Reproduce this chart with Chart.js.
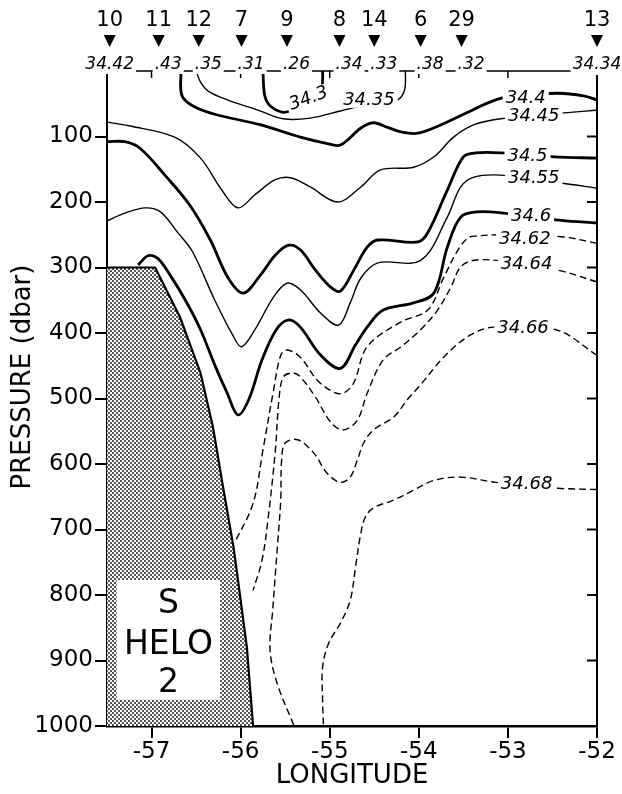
<!DOCTYPE html>
<html>
<head>
<meta charset="utf-8">
<script src="https://cdn.jsdelivr.net/npm/chart.js@4"></script>
<style>
html,body{margin:0;padding:0;background:#fff;}
</style>
</head>
<body>
<canvas id="myChart" width="622" height="794"></canvas>
<script>
// stations along the section, marked on top
const stations = ['10','11','12','7','9','8','14','6','29','13'];
const stationLon = [-57.47,-56.92,-56.47,-55.99,-55.48,-54.89,-54.50,-53.98,-53.52,-52.0];
const surfaceS = ['34.42','.43','.35','.31','.26','.34','.33','.38','.32','34.34'];

const lonTicks = [-57,-56,-55,-54,-53,-52];
const presTicks = [100,200,300,400,500,600,700,800,900,1000];

// salinity contours as [longitude, pressure]
const s343 = [[-55.75,0],[-55.73,37],[-55.67,53],[-55.52,63],[-55.39,58],[-55.22,49],[-55.10,34],[-55.08,14],[-55.08,0]];
const s3435 = [[-56.50,0],[-56.45,17],[-56.36,31],[-56.15,44],[-55.80,60],[-55.52,73],[-55.22,72],[-54.88,61],[-54.54,50],[-54.24,44],[-54.16,29],[-54.15,0]];
const s344 = [[-56.67,0],[-56.66,37],[-56.54,53],[-56.29,66],[-55.78,82],[-55.33,101],[-55.05,110],[-54.88,113],[-54.65,87],[-54.51,79],[-54.35,86],[-54.20,93],[-54.01,95],[-53.75,82],[-53.45,63],[-53.23,49],[-53.02,40],[-52.74,37],[-52.44,34],[-52.15,38],[-52.0,44]];
const s3445 = [[-57.5,78],[-57.24,84],[-56.74,101],[-56.45,133],[-56.21,182],[-56.03,209],[-55.84,189],[-55.61,166],[-55.44,163],[-55.22,177],[-54.91,200],[-54.65,177],[-54.43,151],[-54.06,147],[-53.83,131],[-53.61,101],[-53.38,82],[-53.08,73],[-52.74,70],[-52.37,64],[-52.0,60]];
const s345 = [[-57.5,108],[-57.30,108],[-57.13,118],[-56.85,159],[-56.57,205],[-56.34,258],[-56.14,316],[-55.97,339],[-55.78,312],[-55.61,281],[-55.46,266],[-55.33,273],[-55.16,304],[-54.99,330],[-54.88,336],[-54.73,304],[-54.58,269],[-54.46,258],[-54.01,261],[-53.90,247],[-53.68,182],[-53.50,131],[-53.36,125],[-53.08,125],[-52.48,131],[-52.0,133]];
const s3455 = [[-57.5,229],[-57.30,217],[-57.07,209],[-56.90,215],[-56.71,246],[-56.54,276],[-56.29,350],[-56.09,403],[-55.99,421],[-55.84,395],[-55.64,347],[-55.48,324],[-55.33,334],[-55.10,370],[-54.90,388],[-54.77,354],[-54.65,316],[-54.46,293],[-53.98,289],[-53.68,223],[-53.53,177],[-53.38,162],[-53.08,159],[-52.40,171],[-52.0,179]];
const s346 = [[-57.15,296],[-57.04,282],[-56.93,286],[-56.79,312],[-56.62,350],[-56.45,395],[-56.29,449],[-56.15,492],[-56.03,525],[-55.91,502],[-55.76,441],[-55.60,395],[-55.46,380],[-55.33,391],[-55.10,434],[-54.88,454],[-54.71,418],[-54.58,391],[-54.40,365],[-54.06,354],[-53.83,339],[-53.68,269],[-53.53,223],[-53.34,215],[-53.05,217],[-52.40,228],[-52.0,232]];
const s3462 = [[-52.0,263],[-52.40,253],[-53.08,250],[-53.36,252],[-53.45,255],[-53.56,273],[-53.72,315],[-53.90,365],[-54.20,383],[-54.58,421],[-54.73,476],[-54.85,492],[-54.96,490],[-55.14,472],[-55.33,437],[-55.48,426],[-55.55,434],[-55.63,487],[-55.75,579],[-55.86,660],[-56.07,721]];
const s3464 = [[-52.0,322],[-52.44,304],[-53.08,290],[-53.38,289],[-53.53,299],[-53.64,330],[-53.79,365],[-53.98,395],[-54.20,421],[-54.40,441],[-54.58,492],[-54.69,533],[-54.85,548],[-54.99,536],[-55.16,498],[-55.33,467],[-55.41,461],[-55.52,467],[-55.57,502],[-55.61,579],[-55.69,681],[-55.76,747],[-55.86,793]];
const s3466 = [[-52.0,434],[-52.46,395],[-53.16,391],[-53.42,403],[-53.70,434],[-53.98,479],[-54.13,502],[-54.28,528],[-54.51,548],[-54.62,568],[-54.69,594],[-54.77,620],[-54.88,628],[-55.03,614],[-55.18,583],[-55.36,563],[-55.50,568],[-55.54,594],[-55.55,655],[-55.59,731],[-55.64,823],[-55.67,884],[-55.59,935],[-55.40,1000]];
const s3468 = [[-52.0,639],[-52.44,637],[-53.14,628],[-53.53,620],[-53.83,625],[-54.06,640],[-54.28,655],[-54.51,667],[-54.60,681],[-54.65,705],[-54.71,757],[-54.77,808],[-54.88,843],[-55.01,873],[-55.08,910],[-55.08,961],[-55.07,1000]];

// sea floor (shelf and slope)
const bottom = [[-57.5,300],[-56.96,300],[-56.68,376],[-56.45,461],[-56.31,544],[-56.21,625],[-56.08,727],[-56.03,777],[-55.93,880],[-55.86,1000]];

// contour labels
const labelText = ['34.3','34.35','34.4','34.45','34.5','34.55','34.6','34.62','34.64','34.66','34.68'];
const labelLon = [-55.24,-54.56,-52.80,-52.71,-52.78,-52.71,-52.74,-52.81,-52.79,-52.83,-52.79];
const labelP = [41,44,40,67,128,162,220,255,293,392,629];

// "S HELO 2" box
const boxText = ['S','HELO','2'];
const boxLon = [-57.39,-56.23];
const boxP = [777,960];
const boxTextP = [815,877,935];
const boxTextLon = -56.81;

const yTitle = 'PRESSURE (dbar)';

const FONT = 'DejaVu Sans';
const ctx = document.getElementById('myChart').getContext('2d');

// checkered fill for the bottom
const pc = document.createElement('canvas');
pc.width = 4; pc.height = 4;
const pctx = pc.getContext('2d');
pctx.fillStyle = '#fff'; pctx.fillRect(0,0,4,4);
pctx.fillStyle = '#555'; pctx.fillRect(0,0,2,2); pctx.fillRect(2,2,2,2);
const dots = ctx.createPattern(pc,'repeat');

const xy = arr => arr.map(p => ({x:p[0], y:p[1]}));

const line = (arr, kind) => ({
    data: xy(arr),
    borderColor: '#000',
    borderWidth: kind=='bold' ? 2.8 : 1.4,
    borderDash: kind=='dash' ? [7,4] : [],
    pointRadius: 0,
    tension: 0.35,
    fill: false,
    order: 2
});

const deco = {
    id: 'deco',
    afterDatasetsDraw(chart){
        const c = chart.ctx, a = chart.chartArea;
        const x = chart.scales.x, y = chart.scales.y;
        c.save();
        c.fillStyle = '#000';
        c.strokeStyle = '#000';

        // white box on the slope
        let bx0 = x.getPixelForValue(boxLon[0]), bx1 = x.getPixelForValue(boxLon[1]);
        let by0 = y.getPixelForValue(boxP[0]), by1 = y.getPixelForValue(boxP[1]);
        c.fillStyle = '#fff';
        c.fillRect(bx0, by0, bx1-bx0, by1-by0);
        c.fillStyle = '#000';
        c.font = '33px "'+FONT+'"';
        c.textAlign = 'center';
        c.textBaseline = 'middle';
        boxText.forEach((t,i)=>{
            c.fillText(t, x.getPixelForValue(boxTextLon), y.getPixelForValue(boxTextP[i]));
        });

        // contour labels, breaking the lines
        c.font = 'italic 18px "'+FONT+'"';
        labelText.forEach((t,i)=>{
            let px = x.getPixelForValue(labelLon[i]), py = y.getPixelForValue(labelP[i]);
            let w = c.measureText(t).width;
            c.save();
            c.translate(px,py);
            if (t=='34.3') c.rotate(-0.35);
            c.fillStyle = '#fff';
            c.fillRect(-w/2-3, -8, w+6, 16);
            c.fillStyle = '#000';
            c.fillText(t, 0, 1);
            c.restore();
        });

        // top line with surface salinities
        let top = y.getPixelForValue(0);
        c.lineWidth = 1.5;
        c.beginPath(); c.moveTo(a.left, top); c.lineTo(a.right, top); c.stroke();
        lonTicks.forEach(v=>{
            if (v==-52) return;
            let px = x.getPixelForValue(v);
            c.beginPath(); c.moveTo(px, top); c.lineTo(px, top+7); c.stroke();
        });
        stationLon.forEach((lon,i)=>{
            let px = x.getPixelForValue(lon);
            let t = surfaceS[i];
            c.font = 'italic 17px "'+FONT+'"';
            c.textBaseline = 'alphabetic';
            c.textAlign = 'left';
            let w = c.measureText(t).width;
            let left = (i==0 || i==stationLon.length-1) ? px - w/2 : px - 4;
            c.fillStyle = '#fff';
            c.fillRect(left-2, top-17, w+4, 20);
            c.fillStyle = '#000';
            c.fillText(t, left, top-2);

            // station marker
            c.beginPath();
            c.moveTo(px-6, top-36); c.lineTo(px+6, top-36); c.lineTo(px, top-24);
            c.closePath(); c.fill();
            c.font = '21px "'+FONT+'"';
            c.textAlign = 'center';
            c.textBaseline = 'middle';
            c.fillText(stations[i], px, top-50);
        });

        // right axis with inward ticks
        c.lineWidth = 2;
        c.beginPath(); c.moveTo(a.right, top+4); c.lineTo(a.right, a.bottom); c.stroke();
        presTicks.forEach(v=>{
            if (v==1000) return;
            let py = y.getPixelForValue(v);
            c.beginPath(); c.moveTo(a.right-10, py); c.lineTo(a.right, py); c.stroke();
        });

        // pressure axis title
        c.save();
        c.translate(23, 377);
        c.rotate(-Math.PI/2);
        c.font = '26px "'+FONT+'"';
        c.textAlign = 'center';
        c.textBaseline = 'middle';
        c.fillText(yTitle, 0, 0);
        c.restore();
        c.restore();
    }
};

new Chart(ctx, {
    type: 'line',
    data: {
        datasets: [
            {
                data: xy(bottom),
                borderColor: '#000',
                borderWidth: 2.2,
                backgroundColor: dots,
                fill: {value: 1000},
                pointRadius: 0,
                tension: 0,
                order: 1
            },
            line(s343,'bold'),
            line(s3435,'thin'),
            line(s344,'bold'),
            line(s3445,'thin'),
            line(s345,'bold'),
            line(s3455,'thin'),
            line(s346,'bold'),
            line(s3462,'dash'),
            line(s3464,'dash'),
            line(s3466,'dash'),
            line(s3468,'dash')
        ]
    },
    options: {
        responsive: false,
        animation: false,
        layout: {padding: {top: 71, right: 25, left: 0, bottom: 0}},
        plugins: {legend: {display: false}, tooltip: {enabled: false}},
        scales: {
            x: {
                type: 'linear',
                min: -57.5,
                max: -52,
                afterBuildTicks: s => { s.ticks = lonTicks.map(v => ({value: v})); },
                afterFit: s => { s.height = 68; },
                grid: {drawOnChartArea: false, tickLength: 12, color: '#000', lineWidth: 2},
                border: {color: '#000', width: 2.5},
                ticks: {color: '#000', font: {family: FONT, size: 23}, padding: 0, maxRotation: 0, callback: v => String(v)},
                title: {display: true, text: 'LONGITUDE', color: '#000', font: {family: FONT, size: 26}, padding: {top: 0, bottom: 2}}
            },
            y: {
                type: 'linear',
                reverse: true,
                min: 0,
                max: 1000,
                afterBuildTicks: s => { s.ticks = presTicks.map(v => ({value: v})); },
                afterFit: s => { s.width = 107; },
                grid: {drawOnChartArea: false, tickLength: 12, color: '#000', lineWidth: 2},
                border: {color: '#000', width: 2},
                ticks: {color: '#000', font: {family: FONT, size: 23}, padding: 2, callback: v => String(v)}
            }
        }
    },
    plugins: [deco]
});
</script>
</body>
</html>
